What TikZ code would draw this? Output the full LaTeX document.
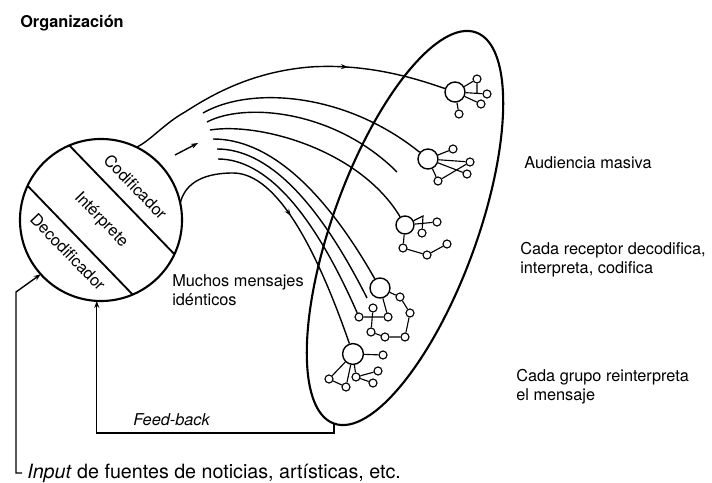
\documentclass[tikz,border=0pt]{standalone}
\usepackage{fontspec}
\setmainfont{TeX Gyre Heros}
\usetikzlibrary{arrows.meta,shapes.geometric,decorations.markings}

\tikzset{
  lbl/.style={font=\fontsize{11.6}{13.5}\selectfont, align=left, inner sep=0pt},
  hub/.style={draw, circle, line width=1pt, inner sep=0pt, minimum size=0.5cm},
  peer/.style={draw, circle, line width=0.8pt, inner sep=0pt, minimum size=0.2cm},
  flow/.style={line width=1pt},
  tie/.style={line width=0.8pt},
  midarrow/.style={postaction={decorate}, decoration={markings, mark=at position #1 with {\arrow{Stealth[length=5pt,width=3.6pt]}}}},
}

\begin{document}
\begin{tikzpicture}[x=0.025cm, y=0.025cm, >={Stealth[length=5pt,width=3.6pt]}]
\useasboundingbox (0,0) rectangle (712,482);

\node[lbl, font=\fontsize{11.6}{13.5}\selectfont\bfseries, anchor=west] (title) at (20,459) {Organización};

\node (org) [draw, circle, line width=1.5pt, minimum size=4.05cm, inner sep=0pt, outer sep=0pt] at (101,262) {};
\draw[line width=1.3pt] (org.113) -- (org.-25);
\draw[line width=1.3pt] (org.155) -- (org.-67);
\node[lbl, rotate=-46] (cod) at ([shift={(44:48)}]org.center) {Codificador};
\node[lbl, rotate=-46] (int) at (org.center) {Intérprete};
\node[lbl, rotate=-46] (dec) at ([shift={(224:46)}]org.center) {Decodificador};

\node (aud) [draw, ellipse, rotate=70, line width=1.5pt, minimum width=10.4cm, minimum height=3.6cm, inner sep=0pt, outer sep=0pt] at (405,254) {};

% grupos de receptores
\node[hub] (g1) at (455,390) {};
\foreach \n/\x/\y in {a/477/403, b/487/388, c/481/378, d/459/368} \node[peer] (g1\n) at (\x,\y) {};
\draw[tie] (g1) -- (g1a) (g1) -- (g1b) (g1) -- (g1c) (g1) -- (g1d) (g1a) -- (g1a |- g1b);

\node[hub] (g2) at (428,323) {};
\foreach \n/\x/\y in {a/453/333, b/470/320, c/467/308, d/438/301} \node[peer] (g2\n) at (\x,\y) {};
\draw[tie] (g2) -- (g2a) (g2) -- (g2b) (g2) -- (g2c) (g2) -- (g2d) (g2d) -- (g2b);

\node[hub, minimum size=0.45cm] (g3) at (405,257) {};
\foreach \n/\x/\y in {a/437/260, b/422/249, c/403/234, d/427/227, e/447/238} \node[peer] (g3\n) at (\x,\y) {};
\coordinate (g3t) at (423,266);
\draw[tie] (g3) -- (g3t) -- (g3b) (g3) -- (g3a) (g3) -- (g3c) -- (g3d) -- (g3e);

\node[hub] (g4) at (380,194) {};
\foreach \n/\x/\y in {a/400/185, b/410/169, c/405/145, d/385/145, e/371/150, f/373/174, g/388/165, h/359/165} \node[peer] (g4\n) at (\x,\y) {};
\draw[tie] (g4) -- (g4a) -- (g4b) -- (g4c) -- (g4d) -- (g4e) -- (g4f) (g4) -- (g4g) -- (g4h);

\node[hub, minimum size=0.52cm] (g5) at (353,128) {};
\foreach \n/\x/\y in {a/329/103, b/346/95, c/356/105, d/383/127, e/378/111, f/373/99} \node[peer] (g5\n) at (\x,\y) {};
\draw[tie] (g5) -- (g5a) -- (g5b) -- (g5) (g5) -- (g5c) -- (g5e) (g5c) -- (g5f) (g5) -- (g5d);

% mensajes
\draw[flow, midarrow=0.7] (org.64) .. controls (150,341) and (165,359) .. (185,370) .. controls (210,386) and (250,410) .. (310,415) .. controls (370,419) and (420,402) .. (g1);
\draw[flow, midarrow=0.5] (org.12) .. controls (184,295) and (198,309) .. (233,309) .. controls (271,309) and (310,252) .. (g5);
\foreach \n/\x/\y in {1/203/369, 2/207/360, 3/210/352, 4/213/343, 5/217/333, 6/218/323} \coordinate (fan\n) at (\x,\y);
\coordinate (fan2-end) at (397,310);
\coordinate (fan5-end) at (367,184);
\draw[flow] (fan1) .. controls (250,396) and (345,390) .. (g2);
\draw[flow] (fan2) .. controls (245,380) and (335,372) .. (fan2-end);
\draw[flow] (fan3) .. controls (260,360) and (360,332) .. (g3);
\draw[flow] (fan4) .. controls (267,343) and (322,296) .. (g4);
\draw[flow] (fan5) .. controls (267,333) and (317,283) .. (fan5-end);
\draw[flow] (fan6) .. controls (265,323) and (312,272) .. (g4h);
\coordinate (push-a) at (175,327);
\coordinate (push-b) at (198,339);
\draw[flow,->] (push-a) -- (push-b);

% retorno y entrada
\draw[flow,->] (aud.west) -- ++(0,-9.5) -| (org.267);
\coordinate (in-tick) at (22,9);
\draw[flow,->] (in-tick) -| (16,190) -- (org.222);

\node[lbl, anchor=west] (msgs) at (172,192) {Muchos mensajes\\idénticos};
\node[lbl, anchor=west] (mass) at (524,319) {Audiencia masiva};
\node[lbl, anchor=west] (recv) at (520,222) {Cada receptor decodifica,\\interpreta, codifica};
\node[lbl, anchor=west] (grp) at (516,95) {Cada grupo reinterpreta\\el mensaje};
\node[lbl, anchor=base west] (fb) at (133,57) {\itshape Feed-back};
\node[lbl, anchor=base west, font=\fontsize{14}{16}\selectfont] (input) at (27,4) {\textit{Input} de fuentes de noticias, artísticas, etc.};
\end{tikzpicture}
\end{document}
